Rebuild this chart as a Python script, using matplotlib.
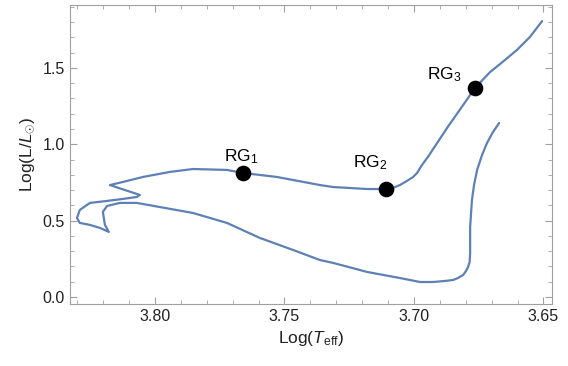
import matplotlib
matplotlib.use("Agg")
import matplotlib.pyplot as plt
from matplotlib.ticker import MultipleLocator

plt.rcParams['font.family'] = ['Liberation Sans', 'DejaVu Sans']
plt.rcParams['mathtext.fontset'] = 'custom'
plt.rcParams['mathtext.rm'] = 'Liberation Sans'
plt.rcParams['mathtext.it'] = 'Liberation Sans:italic'

# evolutionary track (log Teff, log L/Lsun)
log_teff = [3.6671, 3.6695, 3.6718, 3.6737, 3.6756, 3.6768, 3.6776, 3.6783,
            3.6783, 3.6785, 3.6791, 3.6799, 3.6810, 3.6830, 3.6849, 3.6880,
            3.6926, 3.6976, 3.7054, 3.7181, 3.7312, 3.7363, 3.7467,
            3.7594, 3.7722, 3.7853, 3.7981, 3.8070, 3.8135, 3.8185, 3.8201,
            3.8193, 3.8178, 3.8212, 3.8251, 3.8290, 3.8301, 3.8290, 3.8251,
            3.8185, 3.8124, 3.8070, 3.8058, 3.8174, 3.8124, 3.8046, 3.7942,
            3.7853, 3.7722, 3.7660, 3.7529, 3.7363, 3.7312, 3.7181, 3.7108,
            3.7081, 3.7054, 3.7027, 3.7003, 3.6988, 3.6969, 3.6946, 3.6872,
            3.6810, 3.6764, 3.6706, 3.6667, 3.6602, 3.6552, 3.6505]
log_lum = [1.139, 1.080, 1.008, 0.930, 0.832, 0.733, 0.635, 0.458,
           0.288, 0.229, 0.196, 0.170, 0.144, 0.124, 0.111, 0.105,
           0.098, 0.098, 0.124, 0.164, 0.223, 0.242, 0.308,
           0.386, 0.485, 0.550, 0.589, 0.616, 0.616, 0.596, 0.557,
           0.472, 0.426, 0.452, 0.472, 0.485, 0.517, 0.570, 0.616,
           0.629, 0.642, 0.655, 0.668, 0.733, 0.753, 0.786, 0.819,
           0.838, 0.832, 0.812, 0.786, 0.733, 0.720, 0.707, 0.707,
           0.714, 0.733, 0.760, 0.786, 0.812, 0.864, 0.917, 1.107,
           1.257, 1.369, 1.473, 1.526, 1.618, 1.703, 1.807]

# red giant points
rg_names = ['RG$_1$', 'RG$_2$', 'RG$_3$']
rg_teff = [3.7660, 3.7108, 3.6764]
rg_lum = [0.812, 0.707, 1.369]

fig = plt.figure(figsize=(5.68, 3.66), dpi=100)
ax = fig.add_axes([0.1232, 0.1694, 0.8486, 0.8169])

ax.plot(log_teff, log_lum, color='#5E81B5', lw=1.6,
        solid_joinstyle='round', solid_capstyle='round')
ax.scatter(rg_teff, rg_lum, s=105, color='black', zorder=3)

offsets = [(0.0006, 0.105), (0.0062, 0.175), (0.0118, 0.085)]
for name, x, y, (dx, dy) in zip(rg_names, rg_teff, rg_lum, offsets):
    ax.text(x + dx, y + dy, name, fontsize=12.5, ha='center', va='center')

ax.set_xlim(3.8328, 3.6467)
ax.set_ylim(-0.046, 1.912)
ax.xaxis.set_major_locator(MultipleLocator(0.05))
ax.xaxis.set_minor_locator(MultipleLocator(0.01))
ax.yaxis.set_major_locator(MultipleLocator(0.5))
ax.yaxis.set_minor_locator(MultipleLocator(0.1))
ax.xaxis.set_major_formatter(plt.FormatStrFormatter('%.2f'))
ax.yaxis.set_major_formatter(plt.FormatStrFormatter('%.1f'))

for s in ax.spines.values():
    s.set_color('#a0a0a0')
ax.tick_params(which='both', direction='in', top=True, right=True,
               color='#a0a0a0', labelsize=11.5, labelcolor='#222222')
ax.tick_params(which='major', length=5)
ax.tick_params(which='minor', length=3)

ax.set_xlabel(r'Log($T_{\rm eff}$)', fontsize=12.5, color='#222222', labelpad=4)
ax.set_ylabel(r'Log(L/$L_{\odot}$)', fontsize=12.5, color='#222222', labelpad=4)

fig.savefig('out.png', dpi=100)
